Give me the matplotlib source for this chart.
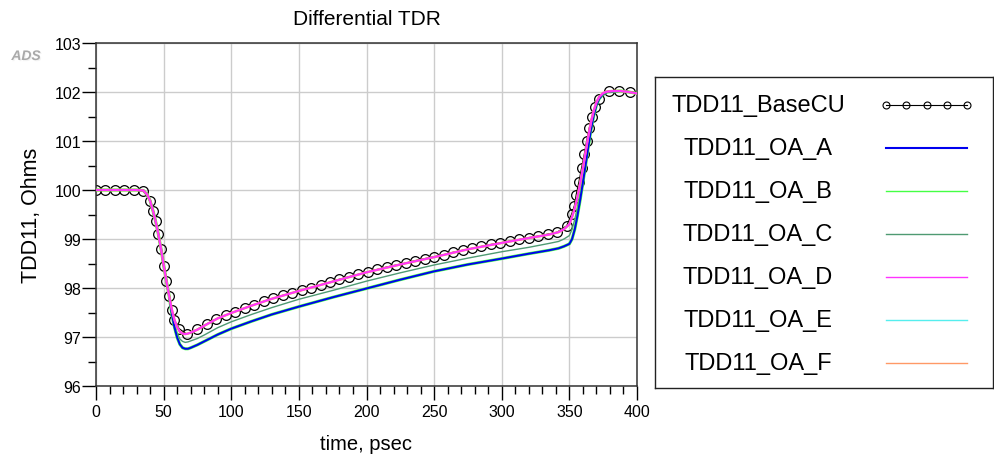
import numpy as np
import matplotlib
matplotlib.use('Agg')
import matplotlib.pyplot as plt
import matplotlib.patheffects as pe

# BaseCU trace, one marker per sample (times in psec, values in Ohms)
base_t = [0, 7, 14, 21, 28, 35, 40, 42, 44, 46, 48, 50, 52, 54, 56, 58, 61.5, 67,
          75, 82, 89, 96, 103, 110, 117, 124, 131, 138, 145, 152, 159, 166, 173,
          180, 187, 194, 201, 208, 215, 222, 229, 236, 243, 250, 257, 264, 271,
          278, 285, 292, 299, 306, 313, 320, 327, 334, 341,
          348, 351.7, 353.7, 355, 357, 359, 361, 362.8, 364.7, 366.5, 369, 372,
          379.5, 387, 394.5, 400]
base_v = [100, 100, 100, 100, 100, 99.98, 99.78, 99.58, 99.36, 99.10, 98.80, 98.45,
          98.14, 97.84, 97.56, 97.34, 97.17, 97.06,
          97.16, 97.27, 97.37, 97.45, 97.52, 97.59, 97.66, 97.73, 97.79, 97.85,
          97.90, 97.95, 98.01, 98.06, 98.12, 98.18, 98.23, 98.28, 98.33, 98.38,
          98.43, 98.47, 98.51, 98.56, 98.60, 98.64, 98.68, 98.73, 98.77, 98.81,
          98.85, 98.89, 98.92, 98.96, 98.99, 99.03, 99.06, 99.10, 99.14,
          99.27, 99.51, 99.68, 99.90, 100.16, 100.45, 100.73, 101.01, 101.27,
          101.48, 101.69, 101.86, 102.03, 102.03, 102.01, 101.98]

# OA traces share one time axis
oa_t = [0, 30, 35, 38, 40, 42, 44, 46, 48, 50, 52, 54, 56, 58, 60, 62, 64, 66, 68, 70,
        75, 80, 90, 100, 115, 130, 150, 175, 200, 225, 250, 275, 300, 320, 335,
        342, 346, 350, 352, 354, 356, 358, 360, 362, 364, 366, 368, 370, 372, 375,
        378, 382, 388, 394, 400]

oa_a = [100, 100, 99.99, 99.90, 99.78, 99.59, 99.37, 99.11, 98.81, 98.47, 98.15, 97.85,
        97.48, 97.20, 96.99, 96.85, 96.78, 96.76, 96.76, 96.78,
        96.84, 96.91, 97.05, 97.17, 97.32, 97.46, 97.62, 97.81, 97.99, 98.17, 98.34,
        98.48, 98.60, 98.70, 98.77,
        98.81, 98.85, 98.90, 99.00, 99.20, 99.48, 99.80, 100.15, 100.51, 100.88,
        101.23, 101.52, 101.73, 101.86, 101.96, 102.00, 102.01, 102.02, 102.00, 101.97]
oa_b = [100, 100, 99.99, 99.90, 99.78, 99.59, 99.37, 99.11, 98.81, 98.47, 98.15, 97.85,
        97.48, 97.20, 96.99, 96.85, 96.78, 96.76, 96.76, 96.78,
        96.84, 96.91, 97.05, 97.17, 97.32, 97.46, 97.62, 97.81, 97.99, 98.17, 98.34,
        98.48, 98.60, 98.70, 98.77,
        98.81, 98.85, 98.90, 99.00, 99.20, 99.48, 99.80, 100.15, 100.51, 100.88,
        101.23, 101.52, 101.73, 101.86, 101.96, 102.00, 102.01, 102.02, 102.00, 101.97]
oa_c = [100, 100, 99.99, 99.90, 99.78, 99.59, 99.37, 99.11, 98.81, 98.47, 98.15, 97.85,
        97.52, 97.27, 97.08, 96.96, 96.91, 96.89, 96.90, 96.92,
        96.97, 97.04, 97.19, 97.31, 97.46, 97.60, 97.77, 97.95, 98.14, 98.31, 98.47,
        98.61, 98.74, 98.83, 98.91,
        98.95, 99.00, 99.07, 99.20, 99.40, 99.66, 99.96, 100.30, 100.65, 101.00,
        101.31, 101.57, 101.76, 101.88, 101.97, 102.00, 102.02, 102.02, 102.00, 101.97]
oa_d = [100, 100, 99.99, 99.90, 99.78, 99.59, 99.37, 99.11, 98.81, 98.47, 98.15, 97.85,
        97.57, 97.35, 97.20, 97.11, 97.07, 97.06, 97.07, 97.09,
        97.15, 97.23, 97.38, 97.49, 97.64, 97.78, 97.94, 98.13, 98.32, 98.48, 98.63,
        98.79, 98.92, 99.02, 99.09,
        99.14, 99.20, 99.30, 99.45, 99.63, 99.86, 100.14, 100.45, 100.78, 101.10,
        101.39, 101.62, 101.79, 101.90, 101.98, 102.01, 102.02, 102.02, 102.00, 101.97]
oa_e = [100, 100, 99.99, 99.90, 99.78, 99.59, 99.37, 99.11, 98.81, 98.47, 98.15, 97.85,
        97.48, 97.20, 96.99, 96.85, 96.78, 96.76, 96.76, 96.78,
        96.84, 96.91, 97.05, 97.17, 97.32, 97.46, 97.62, 97.81, 97.99, 98.17, 98.34,
        98.48, 98.60, 98.70, 98.77,
        98.81, 98.85, 98.90, 99.00, 99.20, 99.48, 99.80, 100.15, 100.51, 100.88,
        101.23, 101.52, 101.73, 101.86, 101.96, 102.00, 102.01, 102.02, 102.00, 101.97]
oa_f = [100, 100, 99.99, 99.90, 99.78, 99.59, 99.37, 99.11, 98.81, 98.47, 98.15, 97.85,
        97.57, 97.35, 97.20, 97.11, 97.07, 97.06, 97.07, 97.09,
        97.15, 97.23, 97.38, 97.49, 97.64, 97.78, 97.94, 98.13, 98.32, 98.48, 98.63,
        98.79, 98.92, 99.02, 99.09,
        99.14, 99.20, 99.30, 99.45, 99.63, 99.86, 100.14, 100.45, 100.78, 101.10,
        101.39, 101.62, 101.79, 101.90, 101.98, 102.01, 102.02, 102.02, 102.00, 101.97]

names = ['TDD11_BaseCU', 'TDD11_OA_A', 'TDD11_OA_B', 'TDD11_OA_C',
         'TDD11_OA_D', 'TDD11_OA_E', 'TDD11_OA_F']
colors = ['black', '#0000ee', '#44ff44', '#4f9a72', '#ff33ff', '#55eeee', '#ff9966']
widths = [0.8, 1.4, 2.2, 1.0, 1.4, 1.0, 1.8]
zorders = [2, 6, 5, 3, 7, 4, 6]

plt.rcParams['font.family'] = ['Liberation Sans', 'DejaVu Sans']

W, H = 995, 460
fig = plt.figure(figsize=(W / 100, H / 100), dpi=100)

# main axes placed in pixel terms
ax = fig.add_axes([96 / W, 1 - 387 / H, (637 - 96) / W, (387 - 44) / H])

ax.plot(base_t, base_v, color=colors[0], lw=widths[0], marker='o', ms=7,
        mfc='none', mec='black', mew=0.9, markevery=list(range(len(base_t) - 1)),
        zorder=zorders[0])
series = [oa_a, oa_b, oa_c, oa_d, oa_e, oa_f]
for vals, c, w, z in zip(series, colors[1:], widths[1:], zorders[1:]):
    ax.plot(oa_t, vals, color=c, lw=w, zorder=z)

ax.set_xlim(0, 400)
ax.set_ylim(96, 103)
ax.set_xticks(np.arange(0, 401, 50))
ax.set_xticks(np.arange(0, 401, 10), minor=True)
ax.set_yticks(np.arange(96, 104, 1))
ax.set_yticks(np.arange(96, 103.1, 0.5), minor=True)
ax.grid(True, which='major', color='#cccccc', lw=1.0)
ax.set_axisbelow(True)
ax.tick_params(which='major', direction='out', length=10, width=1.0,
               labelsize=11.5, pad=3)
ax.tick_params(axis='y', which='major', pad=0.5)
ax.tick_params(which='minor', direction='out', length=6, width=1.0)
for s in ax.spines.values():
    s.set_linewidth(1.1)
    s.set_color('#333333')

ax.set_title('Differential TDR', fontsize=15, pad=14)
ax.set_xlabel('time, psec', fontsize=14.5, labelpad=11)
ax.set_ylabel('TDD11, Ohms', fontsize=15.5, labelpad=9)

fig.text(26 / W, 1 - 57 / H, 'ADS', color='#aaaaaa', fontsize=10,
         fontweight='bold', fontstyle='italic', ha='center', va='center',
         path_effects=[pe.withSimplePatchShadow(offset=(0.8, -0.8),
                                                shadow_rgbFace='#d8d8d8')])

# legend box drawn by hand: text centred on the left, sample line on the right
lax = fig.add_axes([655 / W, 1 - 389 / H, (993 - 655) / W, (389 - 78) / H])
lax.set_xlim(655, 993)
lax.set_ylim(389, 78)
lax.set_xticks([])
lax.set_yticks([])
for s in lax.spines.values():
    s.set_linewidth(1.0)
    s.set_color('#222222')

rows = [106, 149, 192, 235, 278, 321, 364]
for name, c, y in zip(names, colors, rows):
    lax.text(758, y, name, fontsize=17, ha='center', va='center')
    if name.endswith('BaseCU'):
        lax.plot([886, 906.5, 927, 947, 967.5], [y] * 5, color='black', lw=0.8,
                 marker='o', ms=5, mfc='none', mec='black', mew=0.8)
    else:
        lax.plot([886, 967], [y, y], color=c, lw=1.5 if c == '#0000ee' else 1.0)

fig.savefig('out.png', dpi=100)
